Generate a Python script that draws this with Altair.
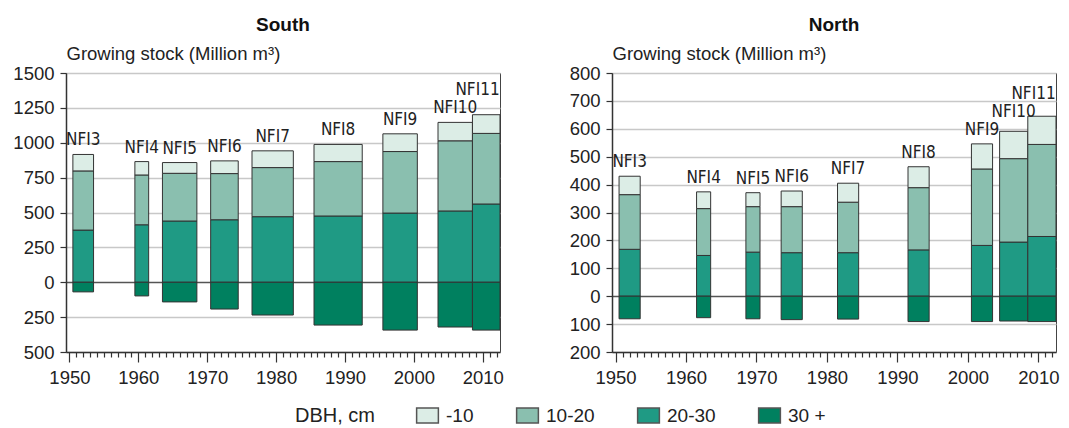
import altair as alt
import pandas as pd

classes = ["-10", "10-20", "20-30", "30 +"]
colors = ["#dcede6", "#8abfaf", "#1f9a84", "#00805f"]

nfi = ["NFI3", "NFI4", "NFI5", "NFI6", "NFI7", "NFI8", "NFI9", "NFI10", "NFI11"]

# South
south_start = [1951, 1960, 1964, 1971, 1977, 1986, 1996, 2004, 2009]
south_end = [1953, 1961, 1968, 1974, 1982, 1992, 2000, 2008, 2012]
south_lt10 = [118, 96, 77, 91, 120, 123, 127, 132, 134]
south_10_20 = [424, 357, 342, 331, 352, 390, 441, 503, 506]
south_20_30 = [374, 412, 439, 448, 470, 475, 496, 511, 561]
south_30p = [69, 98, 141, 192, 235, 307, 343, 321, 343]

# North
north_start = [1951, 1962, 1969, 1974, 1982, 1992, 2001, 2005, 2009]
north_end = [1953, 1963, 1970, 1976, 1984, 1994, 2003, 2008, 2012]
north_lt10 = [66, 60, 50, 56, 68, 75, 90, 98, 101]
north_10_20 = [196, 168, 163, 165, 181, 223, 274, 299, 330]
north_20_30 = [168, 146, 158, 156, 156, 166, 182, 194, 214]
north_30p = [81, 77, 81, 84, 82, 91, 91, 89, 91]

south_ticks = [-500, -250, 0, 250, 500, 750, 1000, 1250, 1500]
north_ticks = [-200, -100, 0, 100, 200, 300, 400, 500, 600, 700, 800]
year_ticks = list(range(1950, 2013))

FONT = "Liberation Sans"
NARROW = "DejaVu Sans Condensed"
XDOM = [1949.5, 2012.5]


def panel(title, start, end, lt10, m1020, m2030, p30, ticks, width, height):
    rows = []
    labs = []
    ymin, ymax = ticks[0], ticks[-1]
    ppu = height / (ymax - ymin)
    ppy = width / (XDOM[1] - XDOM[0])
    prev = None
    for i, name in enumerate(nfi):
        x0, x1 = start[i] - 0.5, end[i] + 0.5
        a, b, c, d = m2030[i], m1020[i], lt10[i], p30[i]
        rows.append(dict(nfi=name, cls="20-30", x0=x0, x1=x1, y0=0, y1=a))
        rows.append(dict(nfi=name, cls="10-20", x0=x0, x1=x1, y0=a, y1=a + b))
        rows.append(dict(nfi=name, cls="-10", x0=x0, x1=x1, y0=a + b, y1=a + b + c))
        rows.append(dict(nfi=name, cls="30 +", x0=x0, x1=x1, y0=0, y1=-d))
        w = 8.6 * len(name)
        # keep the label inside the plot frame
        xc = min((x0 + x1) / 2, XDOM[1] - (w / 2 + 1) / ppy)
        yl = a + b + c + 9 / ppu
        if prev is not None and abs(xc - prev[0]) * ppy < (w + prev[2]) / 2:
            yl = max(yl, prev[1] + 18 / ppu)
        labs.append(dict(nfi=name, xc=xc, yl=yl))
        prev = (xc, yl, w)
    df = pd.DataFrame(rows)
    lab = pd.DataFrame(labs)

    xscale = alt.Scale(domain=XDOM, nice=False, zero=False)
    yscale = alt.Scale(domain=[ymin, ymax], nice=False, zero=False)
    xaxis = alt.Axis(
        values=year_ticks, title=None, grid=False, labelOverlap=False,
        labelExpr="datum.value % 10 === 0 ? datum.label : ''",
        tickSize={"condition": {"test": "datum.value % 10 === 0", "value": 10}, "value": 5},
        labelPadding=6, format="d", labelFontSize=18.5)
    yaxis = alt.Axis(
        values=ticks, title="Growing stock (Million m³)", labelOverlap=False,
        labelExpr="format(abs(datum.value), 'd')",
        titleAngle=0, titleX=0, titleY=-14, titleAlign="left",
        titleBaseline="alphabetic", titleFontSize=18.5, titleFontWeight="normal",
        titleFont=FONT, titleColor="#222222",
        tickSize=6, labelPadding=6, labelFontSize=18.5,
        gridColor={"condition": {"test": "datum.value === 0", "value": "#555555"}, "value": "#c8c8c8"},
        gridWidth=1.6)

    bars = alt.Chart(df).mark_bar(stroke="#333333", strokeWidth=1).encode(
        x=alt.X("x0:Q", scale=xscale, axis=xaxis, title=None),
        x2="x1:Q",
        y=alt.Y("y0:Q", scale=yscale, axis=yaxis, title="Growing stock (Million m³)"),
        y2="y1:Q",
        color=alt.Color("cls:N", scale=alt.Scale(domain=classes, range=colors),
                        legend=alt.Legend(
                            title="DBH, cm", orient="none", legendX=229, legendY=333,
                            direction="horizontal", columns=4, titleOrient="left",
                            titlePadding=43, labelOffset=9, columnPadding=39,
                            symbolType="M-1.45,-1L1.45,-1L1.45,1L-1.45,1Z", symbolSize=225,
                            symbolStrokeColor="#555555", symbolStrokeWidth=1.5,
                            symbolOpacity=1, labelFontSize=19, titleFontSize=20,
                            titleFontWeight="normal", labelFont=FONT, titleFont=FONT,
                            labelColor="#222222", titleColor="#222222",
                            titleBaseline="middle", titleAnchor="middle")),
    )
    texts = alt.Chart(lab).mark_text(
        font=NARROW, fontSize=17, baseline="alphabetic", align="center", color="#222222"
    ).encode(x=alt.X("xc:Q", scale=xscale, axis=xaxis, title=None),
             y=alt.Y("yl:Q", scale=yscale, axis=yaxis, title="Growing stock (Million m³)"),
             text="nfi:N")

    return alt.layer(bars, texts).properties(
        width=width, height=height,
        title=alt.TitleParams(title, font=FONT, fontSize=19, fontWeight="bold",
                              color="#111111", anchor="middle", frame="group", offset=9),
    )


south = panel("South", south_start, south_end, south_lt10, south_10_20, south_20_30,
              south_30p, south_ticks, 434, 279)
north = panel("North", north_start, north_end, north_lt10, north_10_20, north_20_30,
              north_30p, north_ticks, 444, 279)

chart = alt.hconcat(south, north, spacing=112, bounds="flush").resolve_scale(
    color="shared"
).configure(
    padding={"left": 4, "top": 7, "right": 0, "bottom": 0},
).configure_view(
    stroke="#444444", strokeWidth=1
).configure_axis(
    labelFont=FONT, labelColor="#222222", domainColor="#333333", domainWidth=1.5,
    tickColor="#333333", tickWidth=1.2,
)

chart.save("out.html", embed_options={"renderer": "svg", "actions": False})
